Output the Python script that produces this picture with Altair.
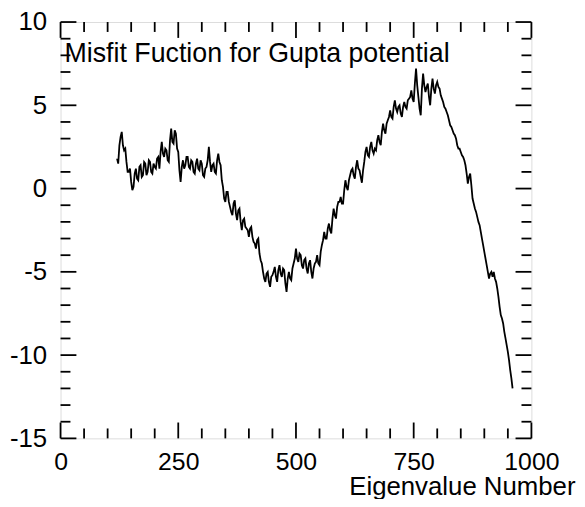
import altair as alt
import pandas as pd

# Misfit values, every 5 eigenvalues from 120 to 960
x_start, x_step = 120, 5
misfit = [
    1.8, 2.6, 3.4, 2.3, 1.6, 1.0, 0.4, 0.1, 1.2, 0.5,
    1.4, 0.8, 1.5, 1.0, 1.6, 0.9, 1.3, 1.8, 1.2, 2.8,
    1.9, 2.3, 1.6, 3.6, 2.7, 3.3, 2.2, 0.4, 1.7, 1.4,
    1.9, 1.2, 1.6, 0.9, 1.8, 1.1, 1.5, 0.7, 1.3, 2.5,
    1.0, 1.5, 0.9, 2.1, 1.4, 0.1, -0.8, -0.2, -1.1, -1.6,
    -0.7, -1.9, -1.2, -2.5, -1.8, -2.4, -2.9, -2.3, -3.2, -3.6,
    -3.0, -4.3, -5.0, -5.6, -5.0, -5.9, -5.2, -4.7, -5.6, -4.6,
    -5.3, -4.9, -6.2, -5.0, -5.5, -4.5, -3.6, -4.4, -4.0, -4.8,
    -4.2, -5.1, -4.3, -5.4, -4.5, -4.0, -4.6, -3.4, -2.6, -3.0,
    -2.1, -2.7, -1.2, -1.8, -0.8, -0.5, -0.9, 0.5, -0.1, 0.8,
    1.2, 0.6, 1.7, 1.1, 0.35, 1.6, 2.5, 1.9, 2.8, 2.1,
    2.3, 3.2, 2.6, 3.9, 3.3, 4.1, 4.7, 4.2, 5.3, 4.6,
    5.0, 4.3, 5.2, 4.8, 5.4, 5.9, 5.2, 7.2, 5.5, 4.4,
    6.9, 5.8, 6.3, 5.0, 6.6, 5.7, 6.4, 6.0, 5.4, 4.9,
    4.6, 4.1, 3.7, 3.3, 3.0, 2.4, 2.2, 1.9, 1.4, 0.3,
    0.9, -0.6, -1.2, -1.7, -2.2, -3.0, -3.8, -4.6, -5.4, -5.0,
    -5.0, -5.6, -6.5, -7.6, -8.1, -9.0, -9.8, -10.9, -12.0,
]
# Values in between (at 122.5, 127.5, ... 957.5)
misfit_mid = [
    1.5, 3.1, 2.6, 2.4, 1.0, 1.2, -0.1, 0.9, 0.6, 1.3,
    0.7, 1.6, 0.8, 1.7, 1.0, 1.5, 1.2, 1.9, 2.2, 2.1,
    2.4, 1.7, 2.9, 2.8, 3.5, 2.4, 1.1, 1.3, 1.2, 1.9,
    1.3, 1.7, 1.0, 1.5, 1.2, 1.7, 0.8, 1.2, 1.7, 1.6,
    1.4, 1.0, 1.7, 1.6, 0.5, -0.6, -0.2, -0.8, -1.4, -0.9,
    -1.5, -1.3, -2.0, -1.9, -2.3, -2.5, -2.4, -2.9, -3.3, -3.1,
    -3.9, -4.5, -5.4, -5.1, -5.6, -5.3, -5.0, -5.3, -4.9, -5.1,
    -4.8, -5.7, -5.4, -5.4, -4.8, -4.2, -4.2, -3.9, -4.6, -4.3,
    -4.8, -4.5, -5.0, -4.8, -4.4, -4.5, -3.8, -3.1, -3.0, -2.4,
    -2.5, -1.8, -1.6, -1.1, -0.8, -0.9, -0.1, 0.1, 0.5, 1.1,
    0.8, 1.3, 1.2, 0.7, 1.1, 2.2, 2.0, 2.5, 2.3, 2.4,
    2.9, 2.8, 3.4, 3.5, 3.9, 4.3, 4.3, 4.9, 4.8, 4.9,
    4.5, 4.9, 4.9, 5.3, 5.5, 5.4, 6.3, 6.2, 4.8, 6.0,
    6.2, 6.1, 5.5, 6.0, 6.0, 6.2, 6.1, 5.6, 5.2, 4.8,
    4.4, 3.8, 3.5, 3.2, 2.6, 2.4, 2.0, 1.7, 0.9, 0.7,
    0.2, -0.9, -1.4, -2.0, -2.6, -3.4, -4.2, -5.0, -5.1, -5.3,
    -5.4, -6.0, -7.1, -7.8, -8.6, -9.4, -10.3, -11.4,
]

x_major = [0, 250, 500, 750, 1000]
x_minor = [v for v in range(50, 1000, 50) if v % 250 != 0]
y_major = [-15, -10, -5, 0, 5, 10]
y_minor = [v for v in range(-14, 10) if v % 5 != 0]

title_text = "Misfit Fuction for Gupta potential"
x_title = "Eigenvalue Number"

FONT = "Liberation Sans"
W, H = 475, 420
MAJ, MIN = 16, 10

xs, ys = [], []
for i, v in enumerate(misfit):
    xs.append(x_start + x_step * i)
    ys.append(v)
    if i < len(misfit_mid):
        xs.append(x_start + x_step * i + x_step / 2)
        ys.append(misfit_mid[i])
df = pd.DataFrame({"x": xs, "y": ys})

x_scale = alt.Scale(domain=[0, 1000], nice=False, zero=False)
y_scale = alt.Scale(domain=[-15, 10], nice=False, zero=False)

plain_label = "datum.value < 0 ? '-' + abs(datum.value) : '' + datum.value"

x_axis = alt.Axis(values=x_major, tickSize=0, domain=False, grid=False,
                  labelFontSize=25, labelFont=FONT, labelColor="black",
                  labelPadding=11, labelFlush=False, labelOverlap=False,
                  labelExpr=plain_label,
                  title=x_title, titleFont=FONT, titleFontSize=26,
                  titleFontWeight="normal", titleColor="black",
                  titleAnchor="end", titleAlign="right", titleX=519, titleY=57,
                  titleBaseline="alphabetic")
y_axis = alt.Axis(values=y_major, tickSize=0, domain=False, grid=False,
                  labelFontSize=26, labelFont=FONT, labelColor="black",
                  labelPadding=14, labelFlush=False, labelOverlap=False,
                  labelExpr=plain_label, title=None)

X = alt.X("x:Q", scale=x_scale, axis=x_axis)
Y = alt.Y("y:Q", scale=y_scale, axis=y_axis)

line = alt.Chart(df).mark_line(color="black", strokeWidth=1.8).encode(x=X, y=Y)


def xticks(vals, length):
    d = pd.DataFrame({"x": vals})
    bottom = alt.Chart(d).mark_rule(color="black", strokeWidth=1.8).encode(
        x=X, y=alt.value(H), y2=alt.value(H - length))
    top = alt.Chart(d).mark_rule(color="black", strokeWidth=1.8).encode(
        x=X, y=alt.value(0), y2=alt.value(length))
    return [bottom, top]


def yticks(vals, length):
    d = pd.DataFrame({"y": vals})
    left = alt.Chart(d).mark_rule(color="black", strokeWidth=1.8).encode(
        y=Y, x=alt.value(0), x2=alt.value(length))
    right = alt.Chart(d).mark_rule(color="black", strokeWidth=1.8).encode(
        y=Y, x=alt.value(W), x2=alt.value(W - length))
    return [left, right]


label = alt.Chart(pd.DataFrame({"t": [title_text]})).mark_text(
    align="left", baseline="alphabetic", font=FONT, fontSize=27, color="black"
).encode(text="t:N", x=alt.value(4), y=alt.value(40))

layers = [line] + xticks(x_major, MAJ) + xticks(x_minor, MIN) + \
    yticks(y_major, MAJ) + yticks(y_minor, MIN) + [label]

chart = alt.layer(*layers).properties(
    width=W, height=H,
    autosize=alt.AutoSizeParams(type="none"),
    padding={"left": 53, "top": 12, "right": 46, "bottom": 59},
).configure_view(stroke="black", strokeWidth=2).configure(background="white")

chart.save("out.html", embed_options={"renderer": "svg", "actions": False})
